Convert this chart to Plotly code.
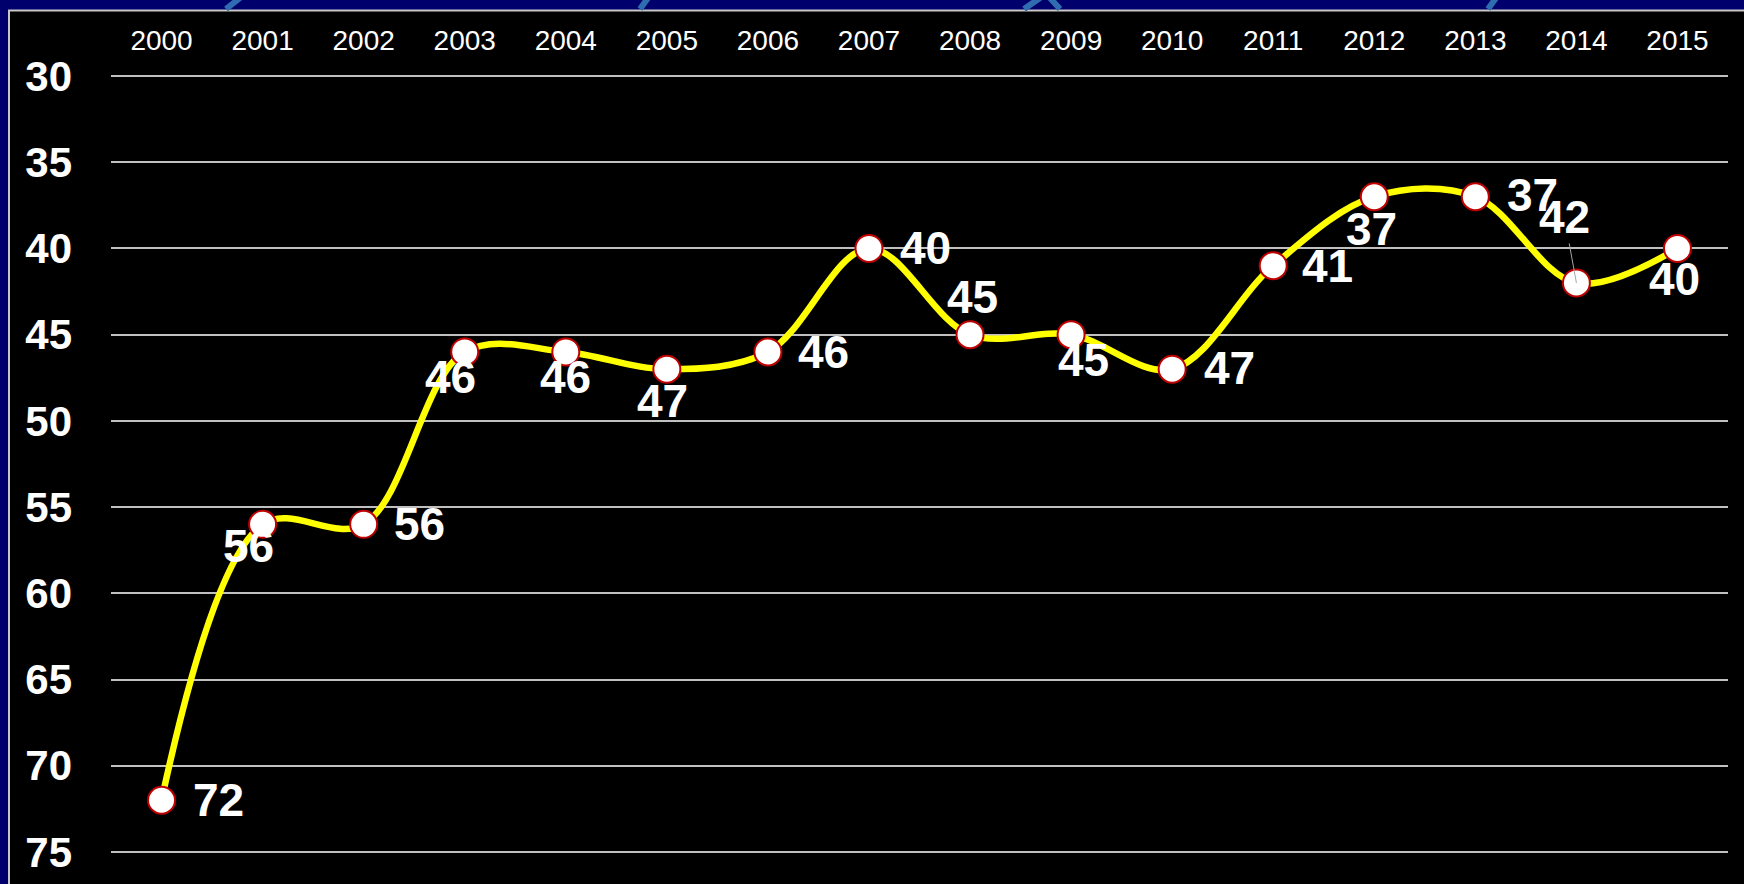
import plotly.graph_objects as go

# ---- data ----
years = ["2000", "2001", "2002", "2003", "2004", "2005", "2006", "2007",
         "2008", "2009", "2010", "2011", "2012", "2013", "2014", "2015"]
values = [72, 56, 56, 46, 46, 47, 46, 40, 45, 45, 47, 41, 37, 37, 42, 40]
y_ticks = [30, 35, 40, 45, 50, 55, 60, 65, 70, 75]

# ---- label placement (pixel offsets of label centre from marker) ----
label_dx = [57, -14, 56, -14, 0, -4, 56, 57, 2, 12, 57, 54, -3, 57, -12, -3]
label_dy = [2, 24, 2, 27, 27, 34, 2, 2, -36, 27, 1, 2, 34, 0, -64, 33]
leader = [False] * 14 + [True, False]

FONT = "Liberation Sans, Arial, sans-serif"
W, H = 1744, 884
ML, MR, MT, MB = 111, 16, 75, 31
PW, PH = W - ML - MR, H - MT - MB
BG = "#00006c"


def px(xp):
    return (xp - ML) / PW


def py(yp):
    return (H - MB - yp) / PH


fig = go.Figure()
fig.add_trace(go.Scatter(
    x=years, y=values, mode="lines+markers",
    line=dict(color="#ffff00", width=6.5, shape="spline", smoothing=1.0),
    marker=dict(size=27, color="white", line=dict(color="#c00000", width=2)),
    hoverinfo="x+y", showlegend=False,
))

annotations = []
VC = -2  # visual centre correction (text box centre vs digit centre)
for i, (v, dx, dy, ld) in enumerate(zip(values, label_dx, label_dy, leader)):
    common = dict(x=i, y=v, xref="x", yref="y", text=f"<b>{v}</b>",
                  font=dict(family=FONT, size=46, color="white"), borderpad=0)
    if ld:
        annotations.append(dict(
            showarrow=True, ax=dx, ay=dy + VC,
            arrowhead=0, arrowwidth=1, arrowcolor="#a6a6a6", standoff=0,
            **common))
    else:
        annotations.append(dict(
            showarrow=False, xanchor="center", yanchor="middle",
            xshift=dx, yshift=-(dy + VC), **common))

shapes = [
    dict(type="rect", xref="paper", yref="paper",
         x0=px(9), x1=px(W + 20), y0=py(H + 20), y1=py(10.5),
         fillcolor="black", line=dict(color="#c8c8c8", width=2), layer="below"),
]
for (xa, xb) in [(226, 240), (640, 648), (1024, 1040), (1060, 1050), (1488, 1496)]:
    shapes.append(dict(type="line", xref="paper", yref="paper",
                       x0=px(xa), x1=px(xb), y0=py(9), y1=py(-2),
                       line=dict(color="#2f6db0", width=6), layer="below"))

fig.update_layout(
    width=W, height=H,
    margin=dict(l=ML, r=MR, t=MT, b=MB, pad=0, autoexpand=False),
    paper_bgcolor=BG,
    plot_bgcolor="black",
    shapes=shapes,
    annotations=annotations,
    xaxis=dict(
        type="category", side="top", range=[-0.5, 15.5],
        showgrid=False, zeroline=False, showline=False, ticks="",
        tickfont=dict(family=FONT, size=28, color="white"),
        ticklabelstandoff=18, fixedrange=True, automargin=False,
    ),
    yaxis=dict(
        range=[75.06, 29.94], tickvals=y_ticks,
        ticktext=[f"<b>{t}</b>" for t in y_ticks],
        showgrid=True, gridcolor="#c0c0c0", gridwidth=2,
        zeroline=False, showline=False, ticks="",
        tickfont=dict(family=FONT, size=42, color="white"),
        ticklabelstandoff=38, fixedrange=True, automargin=False,
    ),
)

fig.write_html(
    "out.html",
    config={"displayModeBar": False},
    post_script=(
        "document.body.style.margin='0';"
        "document.body.style.padding='0';"
        "document.body.style.overflow='hidden';"
        f"document.body.style.background='{BG}';"
    ),
)
